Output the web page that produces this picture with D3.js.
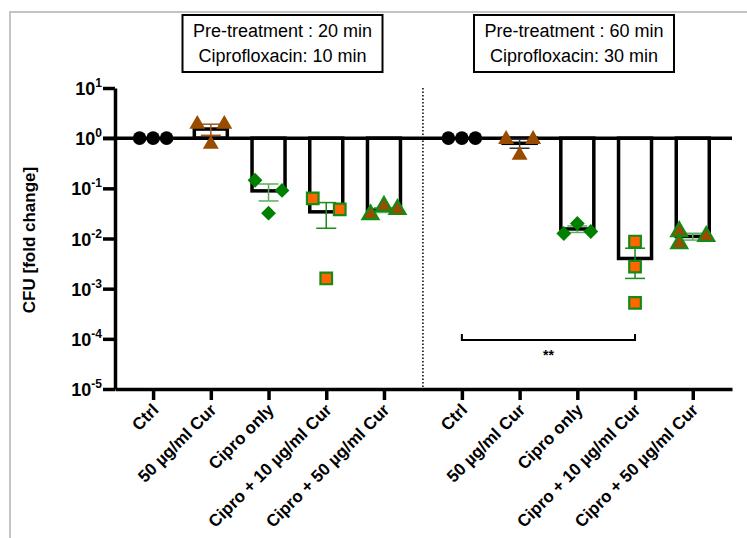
<!DOCTYPE html>
<html lang="en">
	<head>
		<meta charset="utf-8">
		<title>CFU fold change</title>
		<script type="text/javascript" src="https://cdn.jsdelivr.net/npm/d3@7"></script>
		<style type="text/css">
			body { margin: 0; background: #fff; }
			text { font-family: "Liberation Sans", Arial, sans-serif; }
		</style>
	</head>
	<body>
		<script type="text/javascript">

			//Data
			var categories = ["Ctrl", "50 µg/ml Cur", "Cipro only", "Cipro + 10 µg/ml Cur", "Cipro + 50 µg/ml Cur"];
			var panelTitles = [
				["Pre-treatment : 20 min", "Ciprofloxacin: 10 min"],
				["Pre-treatment : 60 min", "Ciprofloxacin: 30 min"]
			];
			var yTicks = [1e-5, 1e-4, 1e-3, 1e-2, 1e-1, 1e0, 1e1];
			var yTickExp = ["-5", "-4", "-3", "-2", "-1", "0", "1"];

			//20 min panel
			var points20 = [[1, 1, 1], [1.9, 1.9, 0.76], [0.145, 0.091, 0.032], [0.063, 0.038, 0.0016], [0.030, 0.044, 0.038]];
			var means20 = [1, 1.52, 0.089, 0.034, 0.037];
			var sem20 = [0, 0.38, 0.033, 0.018, 0.004];

			//60 min panel
			var points60 = [[1, 1, 1], [0.95, 0.95, 0.46], [0.0126, 0.020, 0.0138], [0.0087, 0.00275, 0.00052], [0.0138, 0.0079, 0.011]];
			var means60 = [1, 0.79, 0.0155, 0.004, 0.011];
			var sem60 = [0, 0.16, 0.0023, 0.0024, 0.0017];

			var sigLabel = "**";

			//Layout
			var w = 747;
			var h = 538;
			var groupGap = 5.35;   //index offset of the second panel
			var jitter = [
				[[-1, 0, 1], [-1, 1, 0], [-1, 1, 0], [-1, 1, 0], [-1, 0, 1]],
				[[-1, 0, 1], [-1, 1, 0], [-1, 0, 1], [0, 0, 0], [-1, -1, 1]]
			];
			var markerFill = ["#000", "#994c00", "#008000", "#ff6600", "#994c00"];
			var markerStroke = ["none", "none", "none", "#168a16", "#168a16"];
			var errColor = [
				["#000", "#a0561a", "#5aae5a", "#1a8c1a", "#5aae5a"],
				["#000", "#333", "#5aae5a", "#1a8c1a", "#5aae5a"]
			];

			var panels = [
				{ points: points20, means: means20, sem: sem20, offset: 0 },
				{ points: points60, means: means60, sem: sem60, offset: groupGap }
			];

			var svg = d3.select("body")
						.append("svg")
						.attr("width", w)
						.attr("height", h);

			//Gray frame
			svg.append("rect")
				.attr("x", 10)
				.attr("y", 12)
				.attr("width", w)
				.attr("height", h)
				.attr("fill", "none")
				.attr("stroke", "#c4c4c4")
				.attr("stroke-width", 2);

			//Scales
			var xScale = d3.scaleLinear()
						   .domain([-0.66, 10.03])
						   .range([115, 732]);

			var yScale = d3.scaleLog()
						   .domain([1e-5, 10])
						   .range([389, 88]);

			var base = yScale(1);
			var barW = 33;

			//Dotted separator
			var sepX = xScale((4 + groupGap) / 2);
			svg.append("line")
				.attr("x1", sepX)
				.attr("x2", sepX)
				.attr("y1", yScale(10))
				.attr("y2", yScale(1e-5))
				.attr("stroke", "#000")
				.attr("stroke-width", 1.5)
				.attr("stroke-dasharray", "1.5,2");

			//Bars
			panels.forEach(function(p) {
				svg.append("g")
					.selectAll("rect")
					.data(p.means)
					.enter()
					.append("rect")
					.attr("x", function(d, i) { return xScale(i + p.offset) - barW / 2; })
					.attr("y", function(d) { return Math.min(yScale(d), base); })
					.attr("width", barW)
					.attr("height", function(d) { return Math.abs(yScale(d) - base); })
					.attr("fill", "#fff")
					.attr("stroke", "#000")
					.attr("stroke-width", 3.5);
			});

			//Baseline at 10^0
			svg.append("line")
				.attr("x1", 103)
				.attr("x2", xScale(10.03))
				.attr("y1", base)
				.attr("y2", base)
				.attr("stroke", "#000")
				.attr("stroke-width", 3.5);

			//Error bars
			panels.forEach(function(p, pi) {
				var g = svg.append("g");
				p.means.forEach(function(m, i) {
					if (p.sem[i] === 0) return;
					var cx = xScale(i + p.offset);
					var y1 = yScale(m + p.sem[i]);
					var y2 = yScale(m - p.sem[i]);
					var c = errColor[pi][i];
					g.append("line").attr("x1", cx).attr("x2", cx).attr("y1", y1).attr("y2", y2)
						.attr("stroke", c).attr("stroke-width", 1.5);
					g.append("line").attr("x1", cx - 10).attr("x2", cx + 10).attr("y1", y1).attr("y2", y1)
						.attr("stroke", c).attr("stroke-width", 1.5);
					g.append("line").attr("x1", cx - 10).attr("x2", cx + 10).attr("y1", y2).attr("y2", y2)
						.attr("stroke", c).attr("stroke-width", 1.5);
				});
			});

			//Points
			var shapes = [
				d3.symbol().type(d3.symbolCircle).size(145),
				d3.symbol().type(d3.symbolTriangle).size(110),
				d3.symbol().type(d3.symbolSquare).size(110),
				d3.symbol().type(d3.symbolSquare).size(135),
				d3.symbol().type(d3.symbolTriangle).size(110)
			];

			panels.forEach(function(p, pi) {
				var flat = [];
				p.points.forEach(function(vals, i) {
					vals.forEach(function(v, k) {
						flat.push({ cat: i, v: v, j: jitter[pi][i][k] });
					});
				});
				svg.append("g")
					.selectAll("path")
					.data(flat)
					.enter()
					.append("path")
					.attr("d", function(d) { return shapes[d.cat](); })
					.attr("transform", function(d) {
						var t = "translate(" + (xScale(d.cat + p.offset) + d.j * 13.5) + "," + yScale(d.v) + ")";
						return d.cat === 2 ? t + " rotate(45)" : t;
					})
					.attr("fill", function(d) { return markerFill[d.cat]; })
					.attr("stroke", function(d) { return markerStroke[d.cat]; })
					.attr("stroke-width", 2.2);
			});

			//Significance bracket
			var bx1 = xScale(0 + groupGap);
			var bx2 = xScale(3 + groupGap);
			var by = yScale(9.5e-5);
			svg.append("path")
				.attr("d", "M" + bx1 + "," + (by - 6) + "V" + by + "H" + bx2 + "V" + (by - 6))
				.attr("fill", "none")
				.attr("stroke", "#000")
				.attr("stroke-width", 2);
			svg.append("text")
				.attr("x", (bx1 + bx2) / 2)
				.attr("y", by + 20)
				.attr("text-anchor", "middle")
				.attr("font-size", "14px")
				.attr("font-weight", "bold")
				.text(sigLabel);

			//Y axis
			var yAxis = d3.axisLeft(yScale)
						  .tickValues(yTicks)
						  .tickSize(12)
						  .tickSizeOuter(0)
						  .tickFormat("");

			var yG = svg.append("g")
				.attr("class", "y axis")
				.attr("transform", "translate(115,0)")
				.call(yAxis);
			yG.select(".domain").attr("stroke-width", 3.5);
			yG.selectAll(".tick line").attr("stroke-width", 3.5);
			yG.selectAll(".tick").each(function(d, i) {
				var t = d3.select(this).append("text")
					.attr("x", -13)
					.attr("y", 6.5)
					.attr("fill", "#000")
					.attr("text-anchor", "end")
					.attr("font-size", "18px")
					.attr("font-weight", "bold");
				t.append("tspan").text("10");
				t.append("tspan")
					.attr("dy", -8)
					.attr("font-size", "12px")
					.text(yTickExp[i]);
			});

			//X axis
			var xTicks = [];
			panels.forEach(function(p) {
				categories.forEach(function(c, i) { xTicks.push(i + p.offset); });
			});

			var xAxis = d3.axisBottom(xScale)
						  .tickValues(xTicks)
						  .tickSize(11)
						  .tickSizeOuter(0)
						  .tickFormat("");

			var xG = svg.append("g")
				.attr("class", "x axis")
				.attr("transform", "translate(0,389)")
				.call(xAxis);
			xG.select(".domain").attr("stroke-width", 3.5);
			xG.selectAll(".tick line").attr("stroke-width", 3.5);
			xG.selectAll(".tick").append("text")
				.attr("fill", "#000")
				.attr("text-anchor", "end")
				.attr("font-size", "17px")
				.attr("font-weight", "bold")
				.attr("transform", "translate(6,22) rotate(-45)")
				.text(function(d, i) { return categories[i % categories.length]; });

			//Y axis title
			svg.append("text")
				.attr("transform", "translate(35,240) rotate(-90)")
				.attr("text-anchor", "middle")
				.attr("font-size", "17px")
				.attr("font-weight", "bold")
				.text("CFU [fold change]");

			//Panel title boxes
			var boxCenters = [282.5, 574];
			panelTitles.forEach(function(lines, i) {
				var g = svg.append("g");
				g.append("rect")
					.attr("x", boxCenters[i] - 100)
					.attr("y", 15)
					.attr("width", 200)
					.attr("height", 57)
					.attr("fill", "#fff")
					.attr("stroke", "#000")
					.attr("stroke-width", 2);
				g.selectAll("text")
					.data(lines)
					.enter()
					.append("text")
					.attr("x", boxCenters[i])
					.attr("y", function(d, k) { return 37 + k * 25; })
					.attr("text-anchor", "middle")
					.attr("font-size", "18px")
					.text(function(d) { return d; });
			});

		</script>
	</body>
</html>
